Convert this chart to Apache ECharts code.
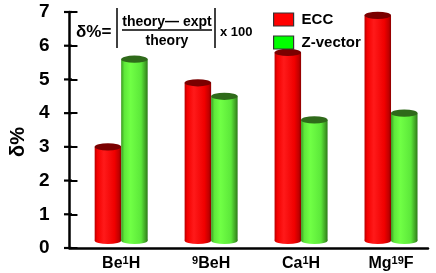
<!DOCTYPE html>
<html>
<head>
<meta charset="utf-8">
<script src="https://cdn.jsdelivr.net/npm/echarts@6/dist/echarts.min.js"></script>
<style>
html,body{margin:0;padding:0;background:#fff;}
#chart{width:436px;height:273px;}
</style>
</head>
<body>
<div id="chart"></div>
<script>
var categories = ['Be¹H', '⁹BeH', 'Ca¹H', 'Mg¹⁹F'];
var eccValues = [3.0, 4.9, 5.8, 6.9];
var zvecValues = [5.6, 4.5, 3.8, 4.0];
var yTicks = [0, 1, 2, 3, 4, 5, 6, 7];
var seriesNames = ['ECC', 'Z-vector'];

var FONT = '"Liberation Sans", Arial, sans-serif';
var supMap = {'¹': '1', '⁹': '9', '⁰': '0', '²': '2', '³': '3'};
function toRich(s) {
  var out = '', buf = '', mode = null;
  for (var i = 0; i < s.length; i++) {
    var c = s[i];
    var m = supMap[c] !== undefined ? 's' : 'b';
    var ch = supMap[c] !== undefined ? supMap[c] : c;
    if (m !== mode && buf) { out += '{' + mode + '|' + buf + '}'; buf = ''; }
    mode = m; buf += ch;
  }
  if (buf) out += '{' + mode + '|' + buf + '}';
  return out;
}

var BAR_W = 26.5, RY = 3.6, AXIS_SHIFT = 12.2, TICK_LEN = 8;
function cylinder(side, bodyStops, capColor) {
  return function (params, api) {
    var cat = api.value(0), val = api.value(1);
    var top = api.coord([cat, val]);
    var base = api.coord([cat, 0]);
    var cx = top[0] + side * BAR_W / 2;
    var x0 = cx - BAR_W / 2;
    var baseY = base[1] - 7.5;
    var grad = new echarts.graphic.LinearGradient(0, 0, 1, 0, bodyStops);
    return {
      type: 'group',
      children: [
        { type: 'circle', shape: { cx: 0, cy: 0, r: BAR_W / 2 }, x: cx, y: baseY, scaleY: RY / (BAR_W / 2),
          style: { fill: grad } },
        { type: 'rect', shape: { x: x0, y: top[1], width: BAR_W, height: baseY - top[1] },
          style: { fill: grad } },
        { type: 'circle', shape: { cx: 0, cy: 0, r: BAR_W / 2 }, x: cx, y: top[1], scaleY: RY / (BAR_W / 2),
          style: { fill: capColor } }
      ]
    };
  };
}
var redStops = [
  { offset: 0, color: '#b80000' }, { offset: 0.1, color: '#f50000' },
  { offset: 0.35, color: '#ff1a1a' }, { offset: 0.75, color: '#f00000' },
  { offset: 0.92, color: '#c00000' }, { offset: 1, color: '#8a0000' }
];
var greenStops = [
  { offset: 0, color: '#3a9a20' }, { offset: 0.12, color: '#5ee83a' },
  { offset: 0.35, color: '#70ff45' }, { offset: 0.75, color: '#5ce83a' },
  { offset: 0.92, color: '#3f9f24' }, { offset: 1, color: '#2c7a18' }
];

function pairs(vals) { return vals.map(function (v, i) { return [i, v]; }); }

var chart = echarts.init(document.getElementById('chart'), null, { renderer: 'canvas' });
chart.setOption({
  animation: false,
  backgroundColor: '#fff',
  grid: [
    { left: 76.2, width: 366.7, top: 12, bottom: 25 },
    { left: 64, width: 364, top: 12, bottom: 25 }
  ],
  legend: {
    data: seriesNames,
    orient: 'vertical',
    left: 268, top: 7,
    icon: 'rect', itemWidth: 20, itemHeight: 13, itemGap: 8,
    itemStyle: { borderColor: '#333', borderWidth: 1.2 },
    textStyle: { fontFamily: FONT, fontWeight: 'bold', fontSize: 15, color: '#000', padding: [0, 0, 0, 3] }
  },
  xAxis: [
    { type: 'category', gridIndex: 0, data: categories,
      axisLine: { show: false }, axisTick: { show: false }, splitLine: { show: false },
      axisLabel: {
        margin: 7, interval: 0,
        formatter: function (v) { return toRich(v); },
        rich: {
          b: { fontFamily: FONT, fontWeight: 'bold', fontSize: 16, color: '#000', lineHeight: 18 },
          s: { fontFamily: FONT, fontWeight: 'bold', fontSize: 11, color: '#000', lineHeight: 9, verticalAlign: 'top' }
        }
      }
    },
    { type: 'value', gridIndex: 1, min: 0, max: 1,
      axisLine: { show: true, lineStyle: { color: '#000', width: 2.5 } },
      axisTick: { show: false }, axisLabel: { show: false }, splitLine: { show: false } }
  ],
  yAxis: [
    { type: 'value', gridIndex: 0, min: 0, max: 7, interval: 1, show: false },
    { type: 'value', gridIndex: 1, min: 0, max: 7, interval: 1,
      name: 'δ%', nameLocation: 'middle', nameGap: 36, nameRotate: 90,
      nameTextStyle: { fontFamily: FONT, fontWeight: 'bold', fontSize: 20, color: '#000', padding: [0, 24, 0, 0] },
      axisLine: { show: true, lineStyle: { color: '#000', width: 2.5 } },
      axisTick: { show: true, inside: true, length: 8, lineStyle: { color: '#000', width: 2 } },
      splitLine: { show: false },
      axisLabel: { margin: 20, fontFamily: FONT, fontWeight: 'bold', fontSize: 19, color: '#000',
        formatter: function (v) { return yTicks.indexOf(v) >= 0 ? String(v) : ''; } }
    }
  ],
  series: [
    { name: seriesNames[0], type: 'custom', xAxisIndex: 0, yAxisIndex: 0,
      itemStyle: { color: '#ff0000' },
      encode: { x: 0, y: 1 },
      renderItem: cylinder(-1, redStops, '#7a0000'),
      data: pairs(eccValues) },
    { name: seriesNames[1], type: 'custom', xAxisIndex: 0, yAxisIndex: 0,
      itemStyle: { color: '#00ff00' },
      encode: { x: 0, y: 1 },
      renderItem: cylinder(1, greenStops, '#2f6a1a'),
      data: pairs(zvecValues) },
    { name: 'ticks', type: 'custom', xAxisIndex: 0, yAxisIndex: 0, silent: true, z: 10,
      itemStyle: { color: '#000' },
      encode: { x: 0, y: 1 },
      data: yTicks.map(function (v) { return [0, v]; }),
      renderItem: function (params, api) {
        var p = api.coord([0, api.value(1)]);
        var x0 = params.coordSys.x - AXIS_SHIFT;
        return { type: 'rect', shape: { x: x0, y: p[1] - 1.1, width: TICK_LEN, height: 2.2 },
          style: { fill: '#000' } };
      } }
  ],
  graphic: [
    { type: 'text', x: 76, y: 32,
      style: { text: 'δ%=', fontFamily: FONT, fontSize: 17, fontWeight: 'bold', fill: '#000', verticalAlign: 'middle' } },
    { type: 'line', shape: { x1: 117, y1: 8, x2: 117, y2: 48 }, style: { stroke: '#000', lineWidth: 1.5 } },
    { type: 'text', x: 167, y: 22,
      style: { text: 'theory— expt', fontFamily: FONT, fontWeight: 'bold', fontSize: 14, fill: '#000', align: 'center', verticalAlign: 'middle' } },
    { type: 'line', shape: { x1: 122, y1: 30, x2: 212, y2: 30 }, style: { stroke: '#000', lineWidth: 1.3 } },
    { type: 'text', x: 167, y: 41,
      style: { text: 'theory', fontFamily: FONT, fontWeight: 'bold', fontSize: 14, fill: '#000', align: 'center', verticalAlign: 'middle' } },
    { type: 'line', shape: { x1: 215, y1: 8, x2: 215, y2: 48 }, style: { stroke: '#000', lineWidth: 1.5 } },
    { type: 'text', x: 220, y: 32,
      style: { text: 'x 100', fontFamily: FONT, fontWeight: 'bold', fontSize: 13, fill: '#000', align: 'left', verticalAlign: 'middle' } }
  ]
});
</script>
</body>
</html>
